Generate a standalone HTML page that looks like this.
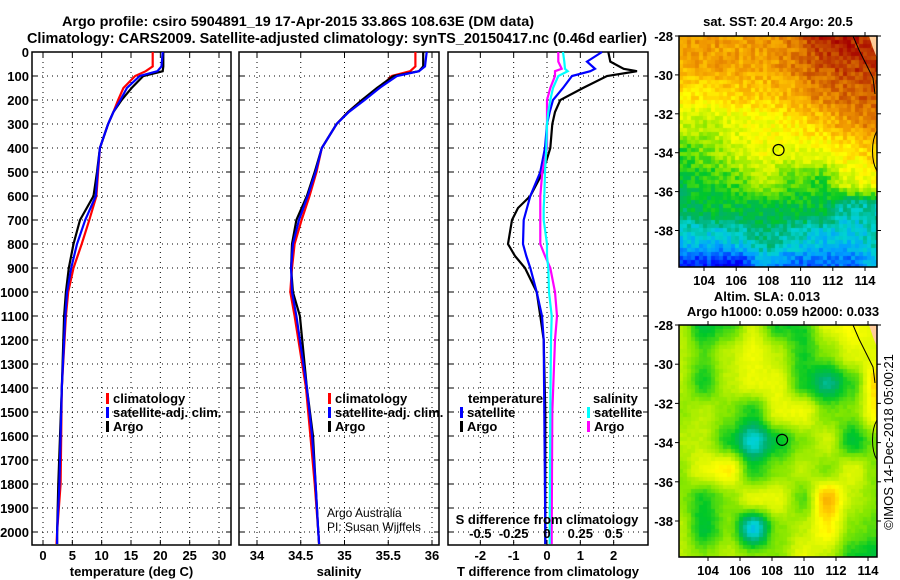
<!DOCTYPE html>
<html><head><meta charset="utf-8">
<style>
html,body{margin:0;padding:0;background:#fff;}
svg{display:block;font-family:"Liberation Sans",Arial,sans-serif;font-weight:bold;}
canvas{position:absolute;}
</style></head>
<body>
<div style="position:relative;width:900px;height:580px;">
<canvas id="sst" width="198" height="231" style="left:679px;top:36px;"></canvas>
<canvas id="sla" width="198" height="232" style="left:679px;top:325px;"></canvas>
<svg id="fig" width="900" height="580" style="position:absolute;left:0;top:0;"></svg>
</div>
<script>
// ---- profile data ----
const tempDepth = [0,60,80,100,150,200,250,300,400,500,600,700,800,900,1000,1100,1400,1600,1800,2000,2050];
const tempArgo = [20.5,20.5,20.4,17.1,15.1,13.4,12,11.1,9.7,9.2,8.6,6.3,5.2,4.4,3.9,3.6,3.2,2.9,2.6,2.4,2.4];
const tempClim = [18.7,18.7,17.5,15.7,13.7,12.8,12,11.1,9.7,9.4,9.1,7.9,6.6,5.2,4.3,3.9,3.2,3.1,3.0,2.4,2.3];
const tempSat = [20.4,20.2,19.5,16.5,14.3,13.2,12,11.1,9.7,9.3,9.0,7.2,5.8,4.8,4.1,3.8,3.2,3.0,2.8,2.4,2.4];
const salDepth = [0,60,80,100,150,200,250,300,400,500,600,700,800,900,1000,1100,1400,1600,1800,2000,2050];
const salArgo = [35.90,35.90,35.85,35.56,35.37,35.2,35.04,34.91,34.74,34.66,34.57,34.45,34.4,34.39,34.41,34.49,34.57,34.64,34.67,34.70,34.71];
const salClim = [35.81,35.81,35.75,35.54,35.4,35.2,35.04,34.91,34.74,34.68,34.6,34.51,34.43,34.4,34.38,34.43,34.56,34.61,34.66,34.70,34.71];
const salSat = [35.94,35.92,35.85,35.6,35.4,35.23,35.05,34.91,34.74,34.67,34.58,34.48,34.41,34.39,34.4,34.45,34.57,34.63,34.67,34.70,34.71];
const diffDepth = [0,40,70,80,100,150,200,250,300,400,500,600,650,700,800,850,900,1000,1100,1200,1500,2000,2050];
const dTArgo = [1.84,1.9,2.3,2.7,1.8,1.08,0.4,0.24,0.16,0.1,-0.12,-0.5,-0.87,-1.05,-1.17,-0.96,-0.66,-0.31,-0.2,-0.1,-0.05,-0.05,-0.05];
const dTSat = [1.65,1.2,1.44,1.3,0.75,0.48,0.18,0.08,0,-0.06,-0.2,-0.5,-0.6,-0.7,-0.72,-0.62,-0.5,-0.31,-0.15,-0.1,-0.08,-0.05,-0.05];
const dSArgo = [0.085,0.085,0.11,0.06,0.06,0.025,0,0,0,0,-0.035,-0.05,-0.05,-0.05,-0.05,-0.015,0.025,0.06,0.075,0.06,0.04,0.035,0.035];
const dSSat = [0.12,0.13,0.135,0.155,0.085,0.045,0.025,0.01,0,-0.005,-0.015,-0.02,-0.025,-0.025,0,0,0.01,0.015,0.035,0.03,0.025,0.02,0.02];
const depthTicks = [0,100,200,300,400,500,600,700,800,900,1000,1100,1200,1300,1400,1500,1600,1700,1800,1900,2000];
const tempTicks = [0,5,10,15,20,25,30];
const salTicks = [34,34.5,35,35.5,36];
const salTickLabels = ["34","34.5","35","35.5","36"];
const dTTicks = [-2,-1,0,1,2];
const dSTicks = [-0.5,-0.25,0,0.25,0.5];
const dSTickLabels = ["-0.5","-0.25","0","0.25","0.5"];
const latTicks = [-28,-30,-32,-34,-36,-38];
const lonTicks = [104,106,108,110,112,114];
// coarse map fields (colour-scale fraction)
const sstGrid = [
[0.8,0.82,0.8,0.82,0.85,0.97,0.97,0.95],
[0.78,0.8,0.8,0.8,0.85,0.9,0.93,0.95],
[0.72,0.72,0.74,0.75,0.78,0.85,0.88,0.9],
[0.62,0.6,0.65,0.67,0.7,0.75,0.82,0.85],
[0.5,0.55,0.62,0.66,0.65,0.66,0.7,0.75],
[0.45,0.48,0.52,0.6,0.52,0.5,0.64,0.68],
[0.42,0.45,0.45,0.45,0.45,0.45,0.35,0.35],
[0.3,0.3,0.32,0.4,0.35,0.3,0.3,0.35],
[0.15,0.15,0.12,0.25,0.2,0.2,0.2,0.3]];
const slaGrid = [
[0.6,0.45,0.5,0.62,0.48,0.48,0.64,0.68,0.64],
[0.6,0.52,0.6,0.66,0.6,0.48,0.55,0.64,0.64],
[0.6,0.48,0.6,0.65,0.65,0.48,0.38,0.5,0.74],
[0.56,0.6,0.55,0.48,0.65,0.66,0.54,0.55,0.7],
[0.6,0.6,0.48,0.32,0.46,0.55,0.62,0.45,0.55],
[0.56,0.65,0.7,0.48,0.55,0.6,0.55,0.64,0.55],
[0.56,0.48,0.55,0.65,0.65,0.52,0.78,0.6,0.55],
[0.6,0.45,0.55,0.3,0.55,0.6,0.7,0.55,0.52],
[0.6,0.55,0.6,0.55,0.55,0.65,0.6,0.48,0.45]];

const NS='http://www.w3.org/2000/svg';
const svg=document.getElementById('fig');
function mk(tag,attrs,parent){const e=document.createElementNS(NS,tag);for(const k in attrs)e.setAttribute(k,attrs[k]);(parent||svg).appendChild(e);return e;}
function txt(x,y,s,anchor,size,weight,color){const t=mk('text',{x:x,y:y,'text-anchor':anchor||'start','font-size':size||12,fill:color||'#000'});if(weight)t.setAttribute('font-weight',weight);t.textContent=s;return t;}

const TOP=52,BOT=545;
const yD=d=>TOP+d*0.24;
const xT=v=>43+v*5.867;
const xS=v=>257+(v-34)*87.5;
const xdT=v=>547+v*33.33;
const xdS=v=>547+v*133.3;

// titles
let t=txt(62,26,'Argo profile: csiro 5904891_19 17-Apr-2015 33.86S 108.63E (DM data)','start',14);
t.setAttribute('textLength','472');t.setAttribute('lengthAdjust','spacingAndGlyphs');

t=txt(27,43,'Climatology: CARS2009. Satellite-adjusted climatology: synTS_20150417.nc (0.46d earlier)','start',14.5);
t.setAttribute('textLength','620');t.setAttribute('lengthAdjust','spacingAndGlyphs');


function panel(name,x0,x1,vt,vfun,labels,xlabel){
  const g=mk('g',{});
  
  depthTicks.forEach(d=>{mk('line',{x1:x0,x2:x1,y1:yD(d),y2:yD(d),stroke:'#000','stroke-dasharray':'1,4','stroke-width':1},g);
    mk('line',{x1:x0,x2:x0+5,y1:yD(d),y2:yD(d),stroke:'#000'},g);mk('line',{x1:x1-5,x2:x1,y1:yD(d),y2:yD(d),stroke:'#000'},g);});
  vt.forEach((v,i)=>{const x=vfun(v);mk('line',{x1:x,x2:x,y1:TOP,y2:BOT,stroke:'#000','stroke-dasharray':'1,4'},g);
    mk('line',{x1:x,x2:x,y1:BOT-5,y2:BOT,stroke:'#000'},g);mk('line',{x1:x,x2:x,y1:TOP,y2:TOP+5,stroke:'#000'},g);
    const l=txt(x,560,labels[i],'middle',13);});
  mk('rect',{x:x0,y:TOP,width:x1-x0,height:BOT-TOP,fill:'none',stroke:'#000','stroke-width':1.5},g);
  const xl=txt((x0+x1)/2,576,xlabel,'middle',13);
  return g;
}
function series(name,depth,vals,xf,color){
  const pts=vals.map((v,i)=>xf(v).toFixed(1)+','+yD(depth[i]).toFixed(1)).join(' ');
  const p=mk('polyline',{points:pts,fill:'none',stroke:color,'stroke-width':2.2,'stroke-linejoin':'miter'});
  
}
depthTicks.forEach(d=>{const l=txt(29,yD(d)+5,String(d),'end',13);});

panel('temperature',32,231,tempTicks,xT,tempTicks.map(String),'temperature (deg C)');
series('temp-clim-line',tempDepth,tempClim,xT,'#f00');
series('temp-argo-line',tempDepth,tempArgo,xT,'#000');
series('temp-sat-line',tempDepth,tempSat,xT,'#00f');

panel('salinity',239,439,salTicks,xS,salTickLabels,'salinity');
series('sal-clim-line',salDepth,salClim,xS,'#f00');
series('sal-argo-line',salDepth,salArgo,xS,'#000');
series('sal-sat-line',salDepth,salSat,xS,'#00f');

panel('difference',448,648,dTTicks,xdT,dTTicks.map(String),'T difference from climatology');
series('dT-argo-line',diffDepth,dTArgo,xdT,'#000');
series('dT-sat-line',diffDepth,dTSat,xdT,'#00f');
series('dS-argo-line',diffDepth,dSArgo,xdS,'#f0f');
series('dS-sat-line',diffDepth,dSSat,xdS,'#0ff');
dSTicks.forEach((v,i)=>{const l=txt(xdS(v),538,dSTickLabels[i],'middle',13);});
t=txt(547,524,'S difference from climatology','middle',13);

function legend(x,y,color,label,nm){
  const g=mk('g',{});
  mk('rect',{x:x,y:y-10,width:3,height:11,fill:color},g);
  const l=txt(x+7,y,label,'start',13);g.appendChild(l);
}
legend(106,403,'#f00','climatology','legend-climatology');
legend(106,417,'#00f','satellite-adj. clim.','legend-satellite-adj');
legend(106,431,'#000','Argo','legend-argo');
legend(328,403,'#f00','climatology','legend-sal-climatology');
legend(328,417,'#00f','satellite-adj. clim.','legend-sal-satellite-adj');
legend(328,431,'#000','Argo','legend-sal-argo');
t=txt(468,403,'temperature','start',13);
legend(460,417,'#00f','satellite','legend-dT-satellite');
legend(460,431,'#000','Argo','legend-dT-argo');
t=txt(593,403,'salinity','start',13);
legend(587,417,'#0ff','satellite','legend-dS-satellite');
legend(587,431,'#f0f','Argo','legend-dS-argo');
t=txt(327,517,'Argo Australia','start',12,'normal');
t=txt(327,531,'PI: Susan Wijffels','start',12,'normal');

// ---- maps ----
const cmapStops=[[0,[0,0,128]],[0.12,[0,0,255]],[0.25,[0,160,255]],[0.33,[0,210,210]],[0.4,[0,176,110]],[0.47,[0,200,40]],[0.55,[128,230,0]],[0.62,[210,245,0]],[0.68,[255,255,0]],[0.75,[255,200,0]],[0.82,[240,150,0]],[0.9,[205,90,0]],[1,[165,0,0]]];
function cmap(v){v=Math.max(0,Math.min(1,v));for(let i=1;i<cmapStops.length;i++){if(v<=cmapStops[i][0]){const a=cmapStops[i-1],b=cmapStops[i];const f=(v-a[0])/(b[0]-a[0]);return a[1].map((c,k)=>Math.round(c+(b[1][k]-c)*f));}}return cmapStops[cmapStops.length-1][1];}
function hash(i,j){let h=(i*374761393+j*668265263)^0x5bd1e995;h=(h^(h>>>13))*1274126177;return ((h^(h>>>16))>>>0)/4294967296;}
function sample(grid,u,v){const R=grid.length-1,C=grid[0].length-1;const y=v*R,x=u*C;const r=Math.min(R-1,Math.floor(y)),c=Math.min(C-1,Math.floor(x));const fy=y-r,fx=x-c;
  const sy=fy*fy*(3-2*fy),sx=fx*fx*(3-2*fx);
  return grid[r][c]*(1-sx)*(1-sy)+grid[r][c+1]*sx*(1-sy)+grid[r+1][c]*(1-sx)*sy+grid[r+1][c+1]*sx*sy;}
function drawMap(id,grid,noise){const cv=document.getElementById(id),ctx=cv.getContext('2d');const W=cv.width,H=cv.height,cs=4;
  for(let j=0;j*cs<H;j++)for(let i=0;i*cs<W;i++){let v=sample(grid,(i*cs+2)/W,Math.min(1,(j*cs+2)/H));v+=(hash(i,j)-0.5)*noise;const c=cmap(v);ctx.fillStyle='rgb('+c.join(',')+')';ctx.fillRect(i*cs,j*cs,cs,cs);}
}
drawMap('sst',sstGrid,0.09);
drawMap('sla',slaGrid,0.02);

function mapFrame(name,x0,x1,y0,y1,latToY,lonToX,lonLabelY){
  const g=mk('g',{});
  mk('path',{d:`M${x1-8},${y0} L${x1},${y0} L${x1},${y0+22} L${x1-4},${y0+12} Z`,fill:'#ffcc99'},g);
  mk('path',{d:`M${x1-24},${y0} L${x1-18},${y0+14} L${x1-10},${y0+30} L${x1-4},${y0+42} L${x1-2},${y0+58}`,fill:'none',stroke:'#000','stroke-width':1},g);
  mk('path',{d:`M${x1},${y0+95} C${x1-6},${y0+105} ${x1-6},${y0+125} ${x1},${y0+135}`,fill:'none',stroke:'#000','stroke-width':1},g);
  mk('rect',{x:x0,y:y0,width:x1-x0,height:y1-y0,fill:'none',stroke:'#000','stroke-width':1.5},g);
  latTicks.forEach(l=>{const y=latToY(l);mk('line',{x1:x0-4,x2:x0,y1:y,y2:y,stroke:'#000'},g);mk('line',{x1:x1,x2:x1+4,y1:y,y2:y,stroke:'#000'},g);
    const tl=txt(x0-6,y+5,String(l),'end',13);});
  lonTicks.forEach(l=>{const x=lonToX(l);mk('line',{x1:x,x2:x,y1:y0-4,y2:y0,stroke:'#000'},g);mk('line',{x1:x,x2:x,y1:y1,y2:y1+4,stroke:'#000'},g);
    const tl=txt(x,lonLabelY,String(l),'middle',13);});
  const c=mk('circle',{cx:lonToX(108.63),cy:latToY(-33.86),r:5.5,fill:'none',stroke:'#000','stroke-width':1.2},g);
  
}
mapFrame('sst-map',679,877,36,267,l=>36+(-28-l)*19.45,l=>704+(l-104)*16.1,285);
mapFrame('sla-map',679,877,325,557,l=>325+(-28-l)*19.6,l=>708+(l-104)*16.0,575);
t=txt(778,26,'sat. SST: 20.4 Argo: 20.5','middle',13);
t=txt(767,301,'Altim. SLA: 0.013','middle',13);
t=txt(783,316,'Argo h1000: 0.059 h2000: 0.033','middle',13);
t=txt(0,0,'\u00a9IMOS 14-Dec-2018 05:00:21','middle',13,'normal');
t.setAttribute('transform','translate(893,442) rotate(-90)');

</script>
</body></html>
